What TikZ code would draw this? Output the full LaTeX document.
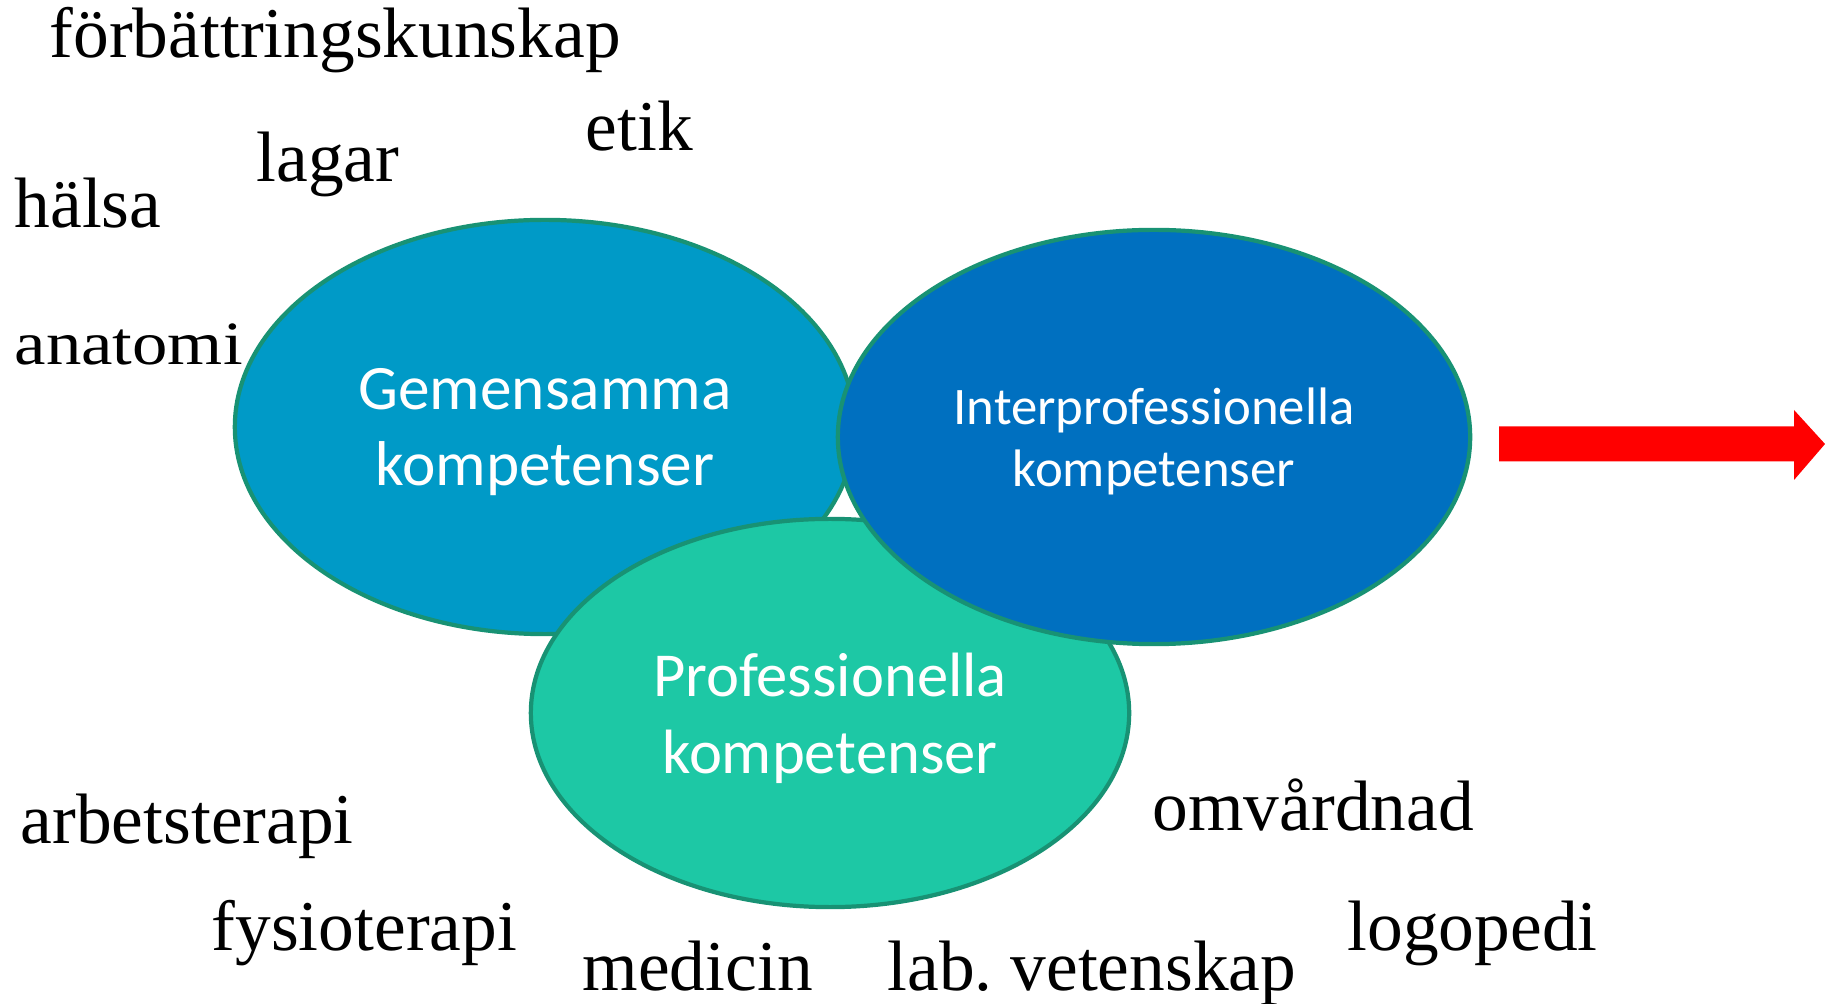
\documentclass[tikz,border=0pt]{standalone}
\usepackage{fontspec}
\setmainfont{Liberation Serif}
\newfontfamily\ellfont{Carlito}
\newfontfamily\widefont[FakeStretch=1.15]{Liberation Serif}
\usetikzlibrary{shapes.geometric}
\definecolor{gemblue}{RGB}{0,154,199}
\definecolor{interblue}{RGB}{0,112,192}
\definecolor{proteal}{RGB}{29,200,165}
\definecolor{rimgreen}{RGB}{24,146,116}
\tikzset{
  komp/.style={ellipse, draw=rimgreen, line width=1.2pt, text=white, align=center, inner sep=0pt, text depth=0pt},
  word/.style={anchor=base west, inner sep=0pt, font=\fontsize{20.3}{24}\selectfont}
}
\frenchspacing
\begin{document}
\begin{tikzpicture}[x=0.01cm, y=-0.01cm, line join=round]
% Ram
\useasboundingbox (0,0) rectangle (1825,1004);
% De tre ellipserna
\node[komp, fill=gemblue, minimum width=6.2cm, minimum height=4.14cm,
  font=\ellfont\fontsize{18}{21.5}\selectfont] (gem) at (545,427) {Gemensamma\\kompetenser};
\node[komp, fill=proteal, minimum width=5.98cm, minimum height=3.88cm,
  font=\ellfont\fontsize{17.8}{21.8}\selectfont] (pro) at (830,713) {Professionella\\kompetenser};
\node[komp, fill=interblue, minimum width=6.32cm, minimum height=4.14cm,
  font=\ellfont\fontsize{15}{17.8}\selectfont] (inter) at (1154,437) {Interprofessionella\\kompetenser};
% Pil
\coordinate (pa) at (1499,444);
\coordinate (pb) at (1825,444);
\fill[red] (pa) ++(0,-17.5) -- ++(295,0) -- (1794,410) -- (pb) -- (1794,480) -- (1794,461.5) -- ++(-295,0) -- cycle;
% Ord runt om
\foreach \n/\t/\x/\y in {fk/förbättringskunskap/49/58, lag/lagar/256/182, et/etik/585/151,
  hal/hälsa/14/228, arb/arbetsterapi/20/843, fys/fysioterapi/211/950,
  med/medicin/582/990, lab/lab. vetenskap/887/990, omv/omvårdnad/1152/830, log/logopedi/1347/950}
  \node[word] (\n) at (\x,\y) {\t};
\node[word, font=\widefont\fontsize{17.5}{21}\selectfont] (ana) at (14,365) {anatomi};
\end{tikzpicture}
\end{document}
